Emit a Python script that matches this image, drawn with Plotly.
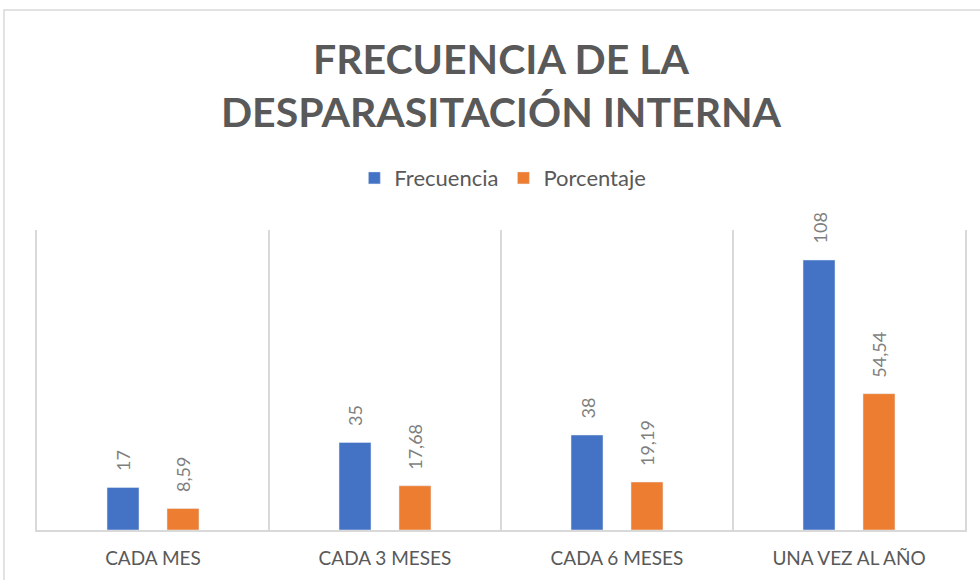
import plotly.graph_objects as go

categories = ["CADA MES", "CADA 3 MESES", "CADA 6 MESES", "UNA VEZ AL AÑO"]
frecuencia = [17, 35, 38, 108]
porcentaje = [8.59, 17.68, 19.19, 54.54]
frecuencia_labels = ["17", "35", "38", "108"]
porcentaje_labels = ["8,59", "17,68", "19,19", "54,54"]

BLUE = "#4472C4"
ORANGE = "#ED7D31"
GRID = "#D9D9D9"
TXT = "#595959"
LBL = "#7F7F7F"
FONT = "Lato"

fig = go.Figure()
fig.add_trace(go.Bar(name="Frecuencia", x=categories, y=frecuencia, marker_color=BLUE))
fig.add_trace(go.Bar(name="Porcentaje", x=categories, y=porcentaje, marker_color=ORANGE))

annotations = []
for cat, v, t in zip(categories, frecuencia, frecuencia_labels):
    annotations.append(dict(x=cat, y=v, text=t, xref="x", yref="y", showarrow=False,
                            textangle=-90, xanchor="center", yanchor="bottom",
                            xshift=-30, yshift=14, font=dict(family=FONT, size=18, color=LBL)))
for cat, v, t in zip(categories, porcentaje, porcentaje_labels):
    annotations.append(dict(x=cat, y=v, text=t, xref="x", yref="y", showarrow=False,
                            textangle=-90, xanchor="center", yanchor="bottom",
                            xshift=30, yshift=14, font=dict(family=FONT, size=18, color=LBL)))

fig.update_layout(
    width=980, height=580,
    margin=dict(l=37, r=15, t=230, b=50),
    paper_bgcolor="white", plot_bgcolor="white",
    barmode="group", bargap=0.483, bargroupgap=0.467,
    title=dict(text="<b>FRECUENCIA DE LA<br>DESPARASITACIÓN INTERNA</b>",
               x=0.5, xref="paper", xanchor="center",
               y=0.873, yref="container", yanchor="middle",
               font=dict(family=FONT, size=41, color=TXT)),
    legend=dict(orientation="h", x=0.502, xanchor="center", y=1.173, yanchor="middle",
                font=dict(family=FONT, size=22, color=TXT), bgcolor="rgba(0,0,0,0)"),
    font=dict(family=FONT, color=TXT),
    annotations=annotations,
    showlegend=True,
)
fig.update_xaxes(type="category", tickson="boundaries", showgrid=True, gridcolor=GRID, gridwidth=1.5,
                 showline=True, linecolor=GRID, linewidth=1.5, ticks="", ticklabelstandoff=10,
                 tickfont=dict(family=FONT, size=19, color=TXT))
fig.update_yaxes(range=[0, 120], showgrid=False, showticklabels=False, zeroline=False,
                 showline=True, mirror=True, linecolor=GRID, linewidth=1.5)

fig.add_shape(type="rect", xref="paper", yref="paper",
              x0=-0.0356, x1=1.03, y0=-0.2, y1=1.733,
              line=dict(color=GRID, width=1.5), fillcolor="rgba(0,0,0,0)", layer="below")

fig.write_html("out.html", config={"displayModeBar": False},
               post_script="document.body.style.margin='0';document.body.style.padding='0';")
